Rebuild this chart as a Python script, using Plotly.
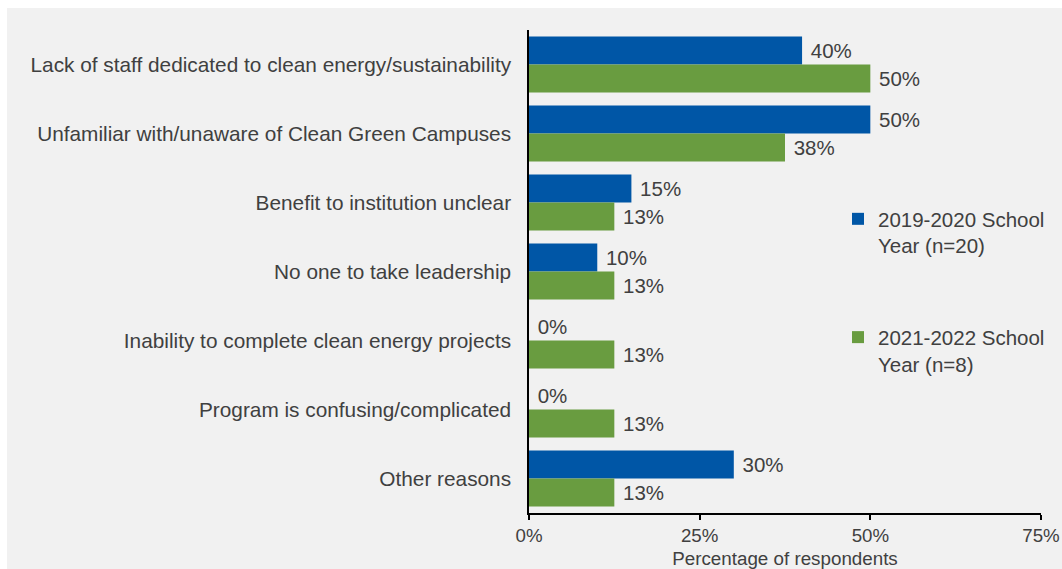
import plotly.graph_objects as go

# Survey data: reasons for not participating
reasons = [
    "Lack of staff dedicated to clean energy/sustainability",
    "Unfamiliar with/unaware of Clean Green Campuses",
    "Benefit to institution unclear",
    "No one to take leadership",
    "Inability to complete clean energy projects",
    "Program is confusing/complicated",
    "Other reasons",
]
year_2019_2020 = [40, 50, 15, 10, 0, 0, 30]
year_2021_2022 = [50, 37.5, 12.5, 12.5, 12.5, 12.5, 12.5]

series_names = ["2019-2020 School<br>Year (n=20)", "2021-2022 School<br>Year (n=8)"]
x_ticks = [0, 25, 50, 75]
x_tick_labels = ["0%", "25%", "50%", "75%"]

BLUE = "#0056a6"
GREEN = "#699c40"
TEXT = "#404040"
BG = "#f1f1f1"
FONT = "Liberation Sans, Arial, sans-serif"

fig = go.Figure()
for i, (name, vals, color) in enumerate(
    [(series_names[0], year_2019_2020, BLUE), (series_names[1], year_2021_2022, GREEN)]
):
    fig.add_trace(
        go.Bar(
            y=reasons,
            x=vals,
            orientation="h",
            name=name,
            legendgroup=f"g{i}",
            marker=dict(color=color, line=dict(width=0)),
            texttemplate="\u00a0%{x:.0f}%",
            textposition="outside",
            textfont=dict(size=20.5, color=TEXT, family=FONT),
            cliponaxis=False,
            hoverinfo="skip",
        )
    )

# plot area in pixels: x 529..1041, y 30..513
L, R, T, B = 529, 21, 30, 56
W, H = 1062, 569
pw, ph = W - L - R, H - T - B


def px_to_paper_x(px):
    return (px - L) / pw


def px_to_paper_y(py):
    return (H - B - py) / ph


fig.update_layout(
    width=W,
    height=H,
    margin=dict(l=L, r=R, t=T, b=B, pad=0, autoexpand=False),
    paper_bgcolor="white",
    plot_bgcolor=BG,
    barmode="group",
    bargap=0.19,
    bargroupgap=0,
    font=dict(family=FONT, color=TEXT, size=20.5),
    showlegend=True,
    legend=dict(
        x=px_to_paper_x(838),
        y=px_to_paper_y(199),
        xanchor="left",
        yanchor="top",
        bgcolor="rgba(0,0,0,0)",
        traceorder="grouped",
        tracegroupgap=62,
        valign="top",
        font=dict(size=20.5, color=TEXT, family=FONT),
    ),
    shapes=[
        dict(
            type="rect",
            xref="paper",
            yref="paper",
            x0=px_to_paper_x(7),
            x1=px_to_paper_x(1080),
            y0=px_to_paper_y(600),
            y1=px_to_paper_y(8),
            fillcolor=BG,
            line=dict(width=0),
            layer="below",
        )
    ],
)

fig.update_xaxes(
    range=[0, 75],
    tickmode="array",
    tickvals=x_ticks,
    ticktext=x_tick_labels,
    automargin=False,
    showgrid=False,
    zeroline=False,
    showline=True,
    linecolor="black",
    linewidth=1.5,
    ticks="outside",
    ticklen=5,
    tickwidth=1.5,
    tickcolor="black",
    ticklabelstandoff=0,
    tickfont=dict(size=18.7, color=TEXT, family=FONT),
    title=dict(
        text="Percentage of respondents",
        font=dict(size=18.8, color=TEXT, family=FONT),
        standoff=11,
    ),
)

fig.update_yaxes(
    autorange="reversed",
    automargin=False,
    showgrid=False,
    zeroline=False,
    showline=True,
    linecolor="black",
    linewidth=1.5,
    ticks="",
    ticklabelstandoff=12,
    tickfont=dict(size=20.8, color=TEXT, family=FONT),
)

fig.write_html("out.html")
